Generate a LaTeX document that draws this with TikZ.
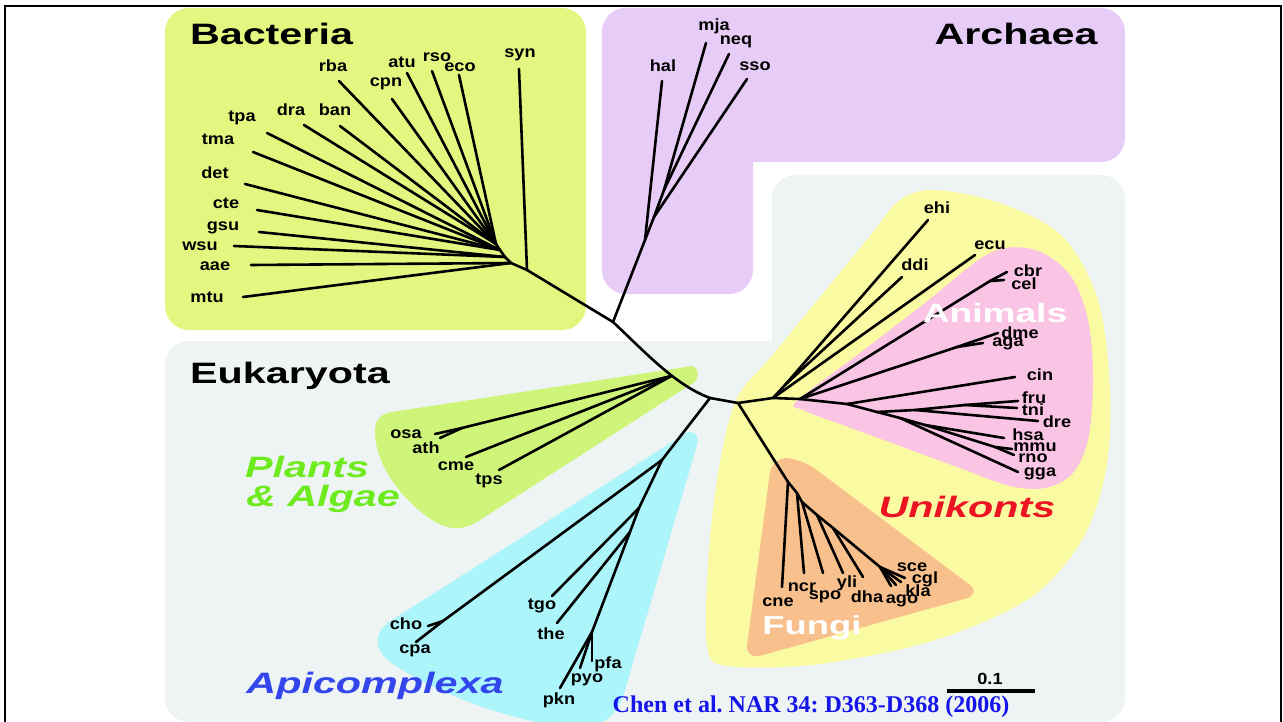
\documentclass[tikz,border=0pt]{standalone}
\usepackage{fontspec}
\setmainfont{Liberation Sans}
\newfontfamily\leaffont[FakeStretch=1.12]{Liberation Sans}
\newfontfamily\groupfont[FakeStretch=1.4]{Liberation Sans}
\newfontfamily\citefont{Liberation Serif}
\frenchspacing

\definecolor{bactbg}{RGB}{228,246,128}
\definecolor{archbg}{RGB}{232,204,248}
\definecolor{eukbg}{RGB}{238,243,243}
\definecolor{unibg}{RGB}{250,250,162}
\definecolor{animbg}{RGB}{250,196,228}
\definecolor{fungbg}{RGB}{248,192,140}
\definecolor{plantbg}{RGB}{206,245,122}
\definecolor{apibg}{RGB}{172,245,250}
\definecolor{plantink}{RGB}{110,235,30}
\definecolor{apiink}{RGB}{50,70,235}
\definecolor{uniink}{RGB}{235,20,35}
\definecolor{citeink}{RGB}{20,20,235}

\begin{document}
\begin{tikzpicture}[x=1pt,y=-1pt,
  br/.style={line width=2.6pt, line cap=round, line join=round},
  leaf/.style={font=\leaffont\bfseries\fontsize{16.2}{17}\selectfont, inner sep=0pt},
  group/.style={font=\groupfont\bfseries\fontsize{29.5}{33}\selectfont, inner sep=0pt, anchor=base},
  clade/.style={font=\groupfont\bfseries\itshape\fontsize{29.5}{33}\selectfont, inner sep=0pt, anchor=base},
  inner/.style={font=\groupfont\bfseries\fontsize{26.5}{30}\selectfont, inner sep=0pt, anchor=base, text=white}]

\useasboundingbox (0,0) rectangle (1283,722);
\clip (0,0) rectangle (1283,722);
\fill[white] (0,0) rectangle (1283,722);

% domain panels
\fill[bactbg, rounded corners=24pt] (165,8) rectangle (586,330);
\fill[archbg, rounded corners=24pt] (602,8) rectangle (1125,162);
\fill[archbg, rounded corners=24pt] (602,8) rectangle (753,294);
\fill[eukbg, rounded corners=24pt] (165,341) rectangle (1125,722);
\fill[eukbg, rounded corners=24pt] (772,175) rectangle (1125,722);

% clade shading
\fill[unibg] plot[smooth cycle, tension=0.55] coordinates {
  (737,398) (770,358) (820,297) (870,236) (900,200) (935,190) (1000,203)
  (1062,236) (1098,300) (1110,390) (1106,470) (1082,540) (1030,598)
  (935,640) (820,664) (728,666) (707,645) (709,550) (720,462)};
\fill[animbg] plot[smooth cycle, tension=0.55] coordinates {
  (797,401) (860,353) (925,303) (990,253) (1035,250) (1070,275) (1088,320)
  (1093,380) (1088,440) (1072,474) (1045,488) (1010,486) (960,468)
  (900,446) (840,424) (803,410)};
\fill[fungbg, rounded corners=16pt] (772,457) -- (802,459) -- (982,594) -- (745,660) -- cycle;
\fill[plantbg] (692,366) .. controls (700,368) and (700,381) .. (690,385)
  -- (480,520) .. controls (460,533) and (445,530) .. (425,515)
  .. controls (395,492) and (375,460) .. (375,432)
  .. controls (375,420) and (380,414) .. (392,412) -- cycle;
\fill[apibg] (686,433) .. controls (693,429) and (700,436) .. (697,445)
  -- (625,690) .. controls (617,718) and (600,732) .. (560,726)
  .. controls (500,718) and (430,690) .. (390,662)
  .. controls (372,648) and (375,630) .. (392,620) -- cycle;

% frame
\draw[line width=2.5pt] (5,722) -- (5,6) -- (1281,6) -- (1281,722);

% internal nodes
\coordinate (B) at (613,322);
\coordinate (E1) at (710,398);
\coordinate (bJ0) at (527,270);
\coordinate (bJ1) at (511,263);
\coordinate (bJ2) at (505,257);
\coordinate (bJ3) at (500,250);
\coordinate (bJ4) at (496,244);
\coordinate (aJ0) at (645,240);
\coordinate (aJ1) at (654,217);
\coordinate (aJ2) at (664,190);
\coordinate (pA) at (462,428);
\coordinate (A0) at (662,460);
\coordinate (cJ) at (443,621);
\coordinate (A1) at (639,508);
\coordinate (A2) at (630,532);
\coordinate (A3) at (592,632);
\coordinate (U0) at (738,403);
\coordinate (U1) at (773,398);
\coordinate (dJ) at (785,385);
\coordinate (U2) at (800,399);
\coordinate (nJ) at (990,281);
\coordinate (iJ) at (957,347);
\coordinate (V0) at (847,404);
\coordinate (V1) at (877,412);
\coordinate (fJ0) at (915,410);
\coordinate (fJ1) at (965,405);
\coordinate (mJ0) at (900,418);
\coordinate (mJ1) at (925,425);
\coordinate (rJ) at (995,447);
\coordinate (Fg0) at (788,482);
\coordinate (Fg1) at (797,493);
\coordinate (Fg2) at (802,502);
\coordinate (Fg3) at (817,515);
\coordinate (Fg4) at (833,528);
\coordinate (Fg5) at (880,567);

% leaves and their names
\foreach \n/\ex/\ey/\tx/\ty in {
 syn/519/69/520/55, eco/459/75/460/67, rso/432/71/437/57, atu/407/73/402/62,
 cpn/392/99/386/84, rba/339/81/333/66, ban/340/126/335/110, dra/304/125/291/110,
 tpa/267/133/242/118, tma/253/152/218/139, det/245/184/215/173, cte/257/210/226/203,
 gsu/259/232/223/228, wsu/234/246/200/246, aae/251/265/215/266, mtu/243/297/207/297,
 hal/662/81/663/66, mja/706/43/714/26, neq/729/54/736/42, sso/747/79/755/66,
 osa/435/434/406/434, ath/440/438/426/448, cme/466/457/456/466, tps/499/470/489/481,
 cho/428/626/406/624, cpa/416/642/415/651, tgo/552/596/542/606, the/557/623/551/634,
 pfa/592/661/608/664, pyo/580/668/587/680, pkn/560/688/559/700,
 ehi/928/220/937/208, ddi/902/277/915/265, ecu/975/255/990/245,
 cbr/1007/272/1028/271, cel/1004/280/1024/284, dme/998/333/1020/333, aga/983/343/1008/344,
 cin/1015/377/1040/375, fru/1018/401/1034/398, tni/1017/408/1033/410, dre/1038/421/1057/422,
 hsa/1004/438/1028/435, mmu/1012/449/1035/447, rno/1014/455/1033/458, gga/1018/472/1040/474,
 cne/782/587/778/602, ncr/804/573/802/587, spo/823/573/825/597, yli/843/573/847/583,
 dha/863/577/867/597, sce/905/578/912/567, cgl/901/582/925/579, kla/896/585/918/591,
 ago/891/586/902/601}
{
  \coordinate (\n) at (\ex,\ey);
  \node[leaf] (\n-t) at (\tx,\ty) {\n};
}

% backbone joining the three domains
\draw[br] (B) .. controls (645,352) and (675,385) .. (E1) coordinate[pos=0.62] (P0);

% branches
\foreach \a/\b in {
 B/bJ0, bJ0/bJ1, bJ1/bJ2, bJ2/bJ3, bJ3/bJ4,
 bJ0/syn, bJ1/mtu, bJ1/aae, bJ2/wsu, bJ2/gsu, bJ3/cte, bJ3/det, bJ3/tma, bJ3/tpa,
 bJ4/dra, bJ4/ban, bJ4/rba, bJ4/cpn, bJ4/atu, bJ4/rso, bJ4/eco,
 B/aJ0, aJ0/aJ1, aJ1/aJ2, aJ0/hal, aJ1/sso, aJ2/mja, aJ2/neq,
 P0/pA, pA/osa, pA/ath, P0/cme, P0/tps,
 E1/A0, A0/cJ, cJ/cho, cJ/cpa, A0/A1, A1/tgo, A1/A2, A2/the, A2/A3,
 A3/pfa, A3/pyo, A3/pkn,
 E1/U0, U0/U1, U1/dJ, dJ/ehi, dJ/ddi, U1/ecu, U1/U2,
 U2/nJ, nJ/cbr, nJ/cel, U2/iJ, iJ/dme, iJ/aga, U2/V0, V0/cin, V0/V1,
 V1/fJ0, fJ0/dre, fJ0/fJ1, fJ1/fru, fJ1/tni,
 V1/mJ0, mJ0/gga, mJ0/mJ1, mJ1/hsa, mJ1/rJ, rJ/mmu, rJ/rno,
 U0/Fg0, Fg0/cne, Fg0/Fg1, Fg1/ncr, Fg1/Fg2, Fg2/spo, Fg2/Fg3, Fg3/yli,
 Fg3/Fg4, Fg4/dha, Fg4/Fg5, Fg5/sce, Fg5/cgl, Fg5/kla, Fg5/ago}
{ \draw[br] (\a) -- (\b); }

% group titles
\node[group] (bact) at (271.5,45) {Bacteria};
\node[group] (arch) at (1016,45) {Archaea};
\node[group] (euk) at (290,383) {Eukaryota};
\node[clade, text=plantink] (plants1) at (307,477) {Plants};
\node[clade, text=plantink] (plants2) at (323,506) {\& Algae};
\node[clade, text=apiink] (api) at (375,693) {Apicomplexa};
\node[clade, text=uniink] (uni) at (967,517) {Unikonts};
\node[inner] (anim) at (995,323) {Animals};
\node[inner, font=\groupfont\bfseries\fontsize{26}{30}\selectfont] (fungi) at (812,634) {Fungi};

% scale bar
\coordinate (sbL) at (947,691);
\coordinate (sbR) at (1035,691);
\draw[line width=4pt] (sbL) -- (sbR);
\node[leaf] (sbt) at (990,679) {0.1};

% reference
\node[font=\citefont\bfseries\fontsize{24}{26}\selectfont, text=citeink, inner sep=0pt, anchor=base]
  (cite) at (811,712) {Chen et al. NAR 34: D363-D368 (2006)};
\end{tikzpicture}
\end{document}
